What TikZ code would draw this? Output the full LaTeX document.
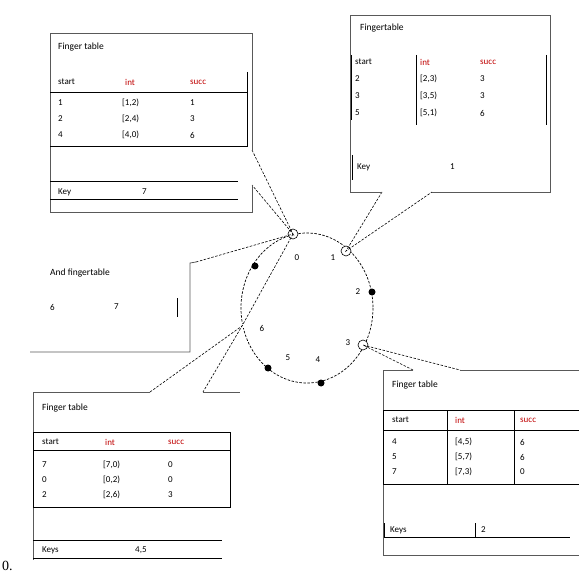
\documentclass[tikz,border=0pt]{standalone}
\usepackage{fontspec}
\setmainfont{Carlito}
\newfontfamily\capfont{Liberation Serif}
\colorlet{hdcol}{red!75!black}
\colorlet{framecol}{black!65}

\begin{document}
\begin{tikzpicture}[x=1pt, y=-1pt, font=\fontsize{9}{10}\selectfont,
    every node/.style={inner sep=0pt, anchor=west},
    frame/.style={draw=framecol, line width=0.8pt},
    rule/.style={draw, line width=1pt},
    pointer/.style={draw, line width=0.6pt, dash pattern=on 2.5pt off 1.5pt},
    head/.style={text=hdcol},
    title/.style={font=\fontsize{9.5}{10}\selectfont},
    peer/.style={circle, draw, fill=white, line width=0.6pt, minimum size=10pt, anchor=center},
    gap/.style={circle, fill=black, minimum size=7pt, anchor=center},
    idlabel/.style={anchor=center, font=\fontsize{9}{9}\selectfont}]

\useasboundingbox (0,0) rectangle (579,575);

% identifier ring
\draw[pointer, line width=0.7pt] (307,308) ellipse [x radius=66, y radius=75];

% pointers from the peers to their tables
\coordinate (a1) at (252,150);
\coordinate (a2) at (252,185);
\coordinate (b1) at (382,192);
\coordinate (b2) at (432,192);
\coordinate (c1) at (196,262);
\coordinate (d1) at (150,392);
\coordinate (d2) at (203,392);
\coordinate (e1) at (413,370);
\coordinate (e2) at (460,370);

\node[peer] (n0) at (293,234) {};
\node[peer] (n1) at (346,251) {};
\node[gap]  (n2) at (372,292) {};
\node[peer] (n3) at (363,345) {};
\node[gap]  (n4) at (321,383) {};
\node[gap]  (n5) at (268,368) {};
\node[peer, minimum size=5pt, draw=none] (n6) at (242,326) {};
\node[gap]  (n7) at (255,266) {};

\draw[pointer] (a1) -- (n0.center) -- (a2);
\draw[pointer] (c1) -- (n0.center);
\draw[pointer] (n0.center) -- (n6.center);
\draw[pointer] (b1) -- (n1.center) -- (b2);
\draw[pointer] (e1) -- (n3.center) -- (e2);
\draw[pointer] (d1) -- (n6.center) -- (d2);

\node[idlabel] (l0) at (297,258) {0};
\node[idlabel] (l1) at (333,258) {1};
\node[idlabel] (l2) at (358,292) {2};
\node[idlabel] (l3) at (348,343) {3};
\node[idlabel] (l4) at (318,360) {4};
\node[idlabel] (l5) at (288,358) {5};
\node[idlabel] (l6) at (262,328) {6};

% table of peer 0
\draw[frame] (a1) -- (252,33) -- (50,33) -- (50,212) -- (252,212) -- (a2);
\node[title] (ta) at (58,47) {Finger table};
\node (ta-s) at (58,82) {start};
\node[head] (ta-i) at (125,82) {int};
\node[head] (ta-c) at (190,82) {succ};
\draw[rule] (50,93) -- (247,93);
\draw[rule] (247,72) -- (247,147) -- (50,147);
\foreach \s/\i/\c [count=\k] in {1/{[1,2)}/1, 2/{[2,4)}/3, 4/{[4,0)}/6} {
  \node (ta-s\k) at (58,87+16*\k) {\s};
  \node (ta-i\k) at (122,87+16*\k) {\i};
  \node (ta-c\k) at (190,87+16*\k) {\c};
}
\draw[rule] (50,182) -- (238,182);
\draw[rule] (50,200) -- (238,200);
\node (ta-k) at (58,192) {Key};
\node (ta-v) at (142,192) {7};

% table of peer 1
\draw[frame] (b1) -- (350,192) -- (350,15) -- (550,15) -- (550,192) -- (b2);
\node[title] (tb) at (360,28) {Fingertable};
\node (tb-s) at (355,62) {start};
\node[head] (tb-i) at (420,62) {int};
\node[head] (tb-c) at (480,62) {succ};
\draw[rule] (351,55) -- (351,120);
\draw[rule] (416,55) -- (416,125);
\draw[rule] (546,55) -- (546,125);
\foreach \s/\i/\c [count=\k] in {2/{[2,3)}/3, 3/{[3,5)}/3, 5/{[5,1)}/6} {
  \node (tb-s\k) at (355,62+17*\k) {\s};
  \node (tb-i\k) at (420,62+17*\k) {\i};
  \node (tb-c\k) at (480,62+17*\k) {\c};
}
\draw[rule] (352,155) -- (352,180);
\node (tb-k) at (357,167) {Key};
\node (tb-v) at (450,167) {1};

% anti finger table
\draw[frame] (c1) -- (190,263) -- (190,352) -- (30,352);
\node[title] (tc) at (50,273) {And fingertable};
\node (tc-1) at (50,307) {6};
\node (tc-2) at (114,307) {7};
\draw[rule] (177,298) -- (177,317);

% table of peer 6
\draw[frame] (d1) -- (33,392) -- (33,560);
\draw[frame] (d2) -- (240,392);
\node[title] (td) at (42,408) {Finger table};
\draw[rule] (33,432) rectangle (230,507);
\draw[rule] (33,450) -- (230,450);
\node (td-s) at (42,442) {start};
\node[head] (td-i) at (105,442) {int};
\node[head] (td-c) at (168,442) {succ};
\foreach \s/\i/\c [count=\k] in {7/{[7,0)}/0, 0/{[0,2)}/0, 2/{[2,6)}/3} {
  \node (td-s\k) at (42,450+15*\k) {\s};
  \node (td-i\k) at (103,450+15*\k) {\i};
  \node (td-c\k) at (168,450+15*\k) {\c};
}
\draw[rule] (33,540) -- (222,540);
\draw[rule] (33,558) -- (222,558);
\node (td-k) at (42,550) {Keys};
\node (td-v) at (135,550) {4,5};

% table of peer 3
\draw[frame] (e1) -- (383,370) -- (383,555) -- (579,555);
\draw[frame] (e2) -- (579,370);
\node[title] (te) at (392,385) {Finger table};
\draw[rule] (383,410) -- (579,410);
\draw[rule] (383,430) -- (579,430);
\draw[rule] (383,484) -- (579,484);
\foreach \xv in {383,447,514}
  \draw[rule] (\xv,410) -- (\xv,484);
\node (te-s) at (392,420) {start};
\node[head] (te-i) at (455,420) {int};
\node[head] (te-c) at (520,420) {succ};
\foreach \s/\i/\c [count=\k] in {4/{[4,5)}/6, 5/{[5,7)}/6, 7/{[7,3)}/0} {
  \node (te-s\k) at (392,427+15*\k) {\s};
  \node (te-i\k) at (455,427+15*\k) {\i};
  \node (te-c\k) at (520,427+15*\k) {\c};
}
\draw[rule] (384,523) -- (384,537) -- (570,537);
\draw[rule] (475,523) -- (475,537);
\node (te-k) at (390,530) {Keys};
\node (te-v) at (481,530) {2};

\node[font=\capfont\fontsize{14}{14}\selectfont] (cap) at (2,566) {0.};
\end{tikzpicture}
\end{document}
